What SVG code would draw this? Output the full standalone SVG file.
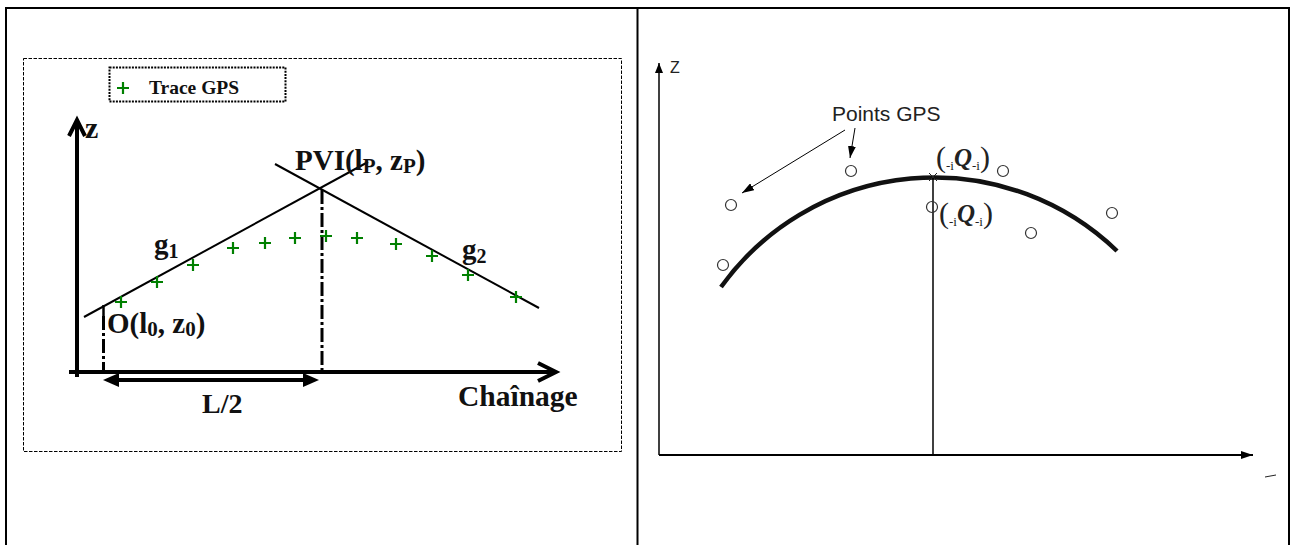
<svg xmlns="http://www.w3.org/2000/svg" width="1291" height="545" viewBox="0 0 1291 545">
<style>
.frame{stroke:#000;stroke-width:2;fill:none}
.serif{font-family:"Liberation Serif","Times New Roman",serif;font-weight:bold;fill:#111}
.sans{font-family:"Liberation Sans",Arial,sans-serif;fill:#222}
.axis{stroke:#000;stroke-width:4;fill:none;stroke-linecap:butt}
.slope{stroke:#000;stroke-width:2;fill:none}
.dashdot{stroke:#000;stroke-width:3;fill:none;stroke-dasharray:14 3 3 3}
.gps{stroke:#008000;stroke-width:2.2;fill:none}
.pt{stroke:#333;stroke-width:1.2;fill:none}
.thin{stroke:#000;stroke-width:1.5;fill:none}
.garb{font-family:"Liberation Serif","Times New Roman",serif;fill:#222}
</style>
<defs>
<marker id="ah" markerUnits="userSpaceOnUse" markerWidth="12" markerHeight="8" refX="12" refY="4" orient="auto">
<path d="M0,0 L12,4 L0,8 Z" fill="#000"/>
</marker>
<marker id="ahs" markerUnits="userSpaceOnUse" markerWidth="10" markerHeight="8" refX="10" refY="4" orient="auto">
<path d="M0,0 L10,4 L0,8 Z" fill="#000"/>
</marker>
<path id="plus" d="M-6,0 H6 M0,-6 V6"/>
</defs>
<rect width="1291" height="545" fill="#fff"/>

<g id="table">
<line class="frame" x1="5" y1="8" x2="1290" y2="8"/>
<line class="frame" x1="6" y1="8" x2="6" y2="545"/>
<line class="frame" x1="637.5" y1="8" x2="637.5" y2="545"/>
<line class="frame" x1="1289" y1="8" x2="1289" y2="545"/>
</g>

<!-- LEFT PANEL -->
<g id="left-frame">
<rect x="23.5" y="58.5" width="598" height="393" fill="none" stroke="#000" stroke-width="1" stroke-dasharray="3.5 1.5"/>
</g>

<g id="legend">
<rect x="109.5" y="67.5" width="176" height="34" fill="none" stroke="#000" stroke-width="2" stroke-dasharray="2 1.2"/>
<use href="#plus" x="123" y="88" class="gps"/>
<text class="serif" x="149" y="94" font-size="19.5">Trace GPS</text>
</g>

<g id="z-axis">
<line class="axis" x1="77" y1="377" x2="77" y2="120"/>
<polyline class="axis" points="69,136 77,120 85,136"/>
<text class="serif" x="85" y="138" font-size="30">z</text>
</g>

<g id="chainage-axis">
<line class="axis" x1="69" y1="372" x2="555" y2="372"/>
<polyline class="axis" points="538,363 556,372 538,381"/>
<text class="serif" x="458" y="406" font-size="29.5">Chaînage</text>
</g>

<g id="L2">
<line class="axis" x1="115" y1="380" x2="307" y2="380"/>
<polygon points="103,380 119,373 119,387" fill="#000"/>
<polygon points="319,380 303,373 303,387" fill="#000"/>
<text class="serif" x="202" y="413" font-size="28">L/2</text>
</g>

<g id="g1">
<line class="slope" x1="84" y1="317" x2="368" y2="162"/>
<text class="serif" x="154" y="254" font-size="29">g<tspan font-size="20" dy="4">1</tspan></text>
</g>

<g id="g2">
<line class="slope" x1="275" y1="164" x2="539" y2="308"/>
<text class="serif" x="462" y="259" font-size="29">g<tspan font-size="20" dy="4">2</tspan></text>
</g>

<g id="PVI">
<line class="dashdot" x1="322" y1="190" x2="322" y2="370"/>
<text class="serif" x="295" y="170" font-size="29">PVI(l<tspan font-size="21" dy="3">P</tspan><tspan dy="-3">, z</tspan><tspan font-size="21" dy="3">P</tspan><tspan dy="-3">)</tspan></text>
</g>

<g id="O">
<line x1="103.5" y1="305" x2="103.5" y2="316" stroke="#000" stroke-width="2.5"/>
<line class="dashdot" x1="103.5" y1="316" x2="103.5" y2="370"/>
<text class="serif" x="107" y="333" font-size="29">O(l<tspan font-size="21" dy="3">0</tspan><tspan dy="-3">, z</tspan><tspan font-size="21" dy="3">0</tspan><tspan dy="-3">)</tspan></text>
</g>

<g id="gps-trace" class="gps">
<use href="#plus" x="121" y="302"/>
<use href="#plus" x="157" y="282"/>
<use href="#plus" x="193" y="265"/>
<use href="#plus" x="233" y="248"/>
<use href="#plus" x="265" y="243"/>
<use href="#plus" x="295" y="238"/>
<use href="#plus" x="326" y="236"/>
<use href="#plus" x="357" y="238"/>
<use href="#plus" x="396" y="244"/>
<use href="#plus" x="432" y="256"/>
<use href="#plus" x="468" y="275"/>
<use href="#plus" x="516" y="297"/>
</g>

<!-- RIGHT PANEL -->
<g id="right-axes">
<line class="thin" x1="659" y1="455" x2="659" y2="63" marker-end="url(#ahs)"/>
<text class="sans" x="670" y="73" font-size="16">Z</text>
<line x1="659" y1="455" x2="1253" y2="455" stroke="#000" stroke-width="2" marker-end="url(#ah)"/>
<line x1="1265" y1="477" x2="1276" y2="475" stroke="#222" stroke-width="1"/>
</g>

<g id="curve">
<path d="M721,287 A263,263 0 0 1 1117,251" fill="none" stroke="#111" stroke-width="4.5"/>
<line class="thin" x1="933" y1="177" x2="933" y2="455"/>
<path d="M929,173 L937,181 M937,173 L929,181" stroke="#222" stroke-width="1"/>
</g>

<g id="points" class="pt">
<circle cx="731" cy="205" r="5.5"/>
<circle cx="851" cy="171" r="5.5"/>
<circle cx="723" cy="265" r="5.5"/>
<circle cx="1003" cy="171" r="5.5"/>
<circle cx="932" cy="207" r="5.5"/>
<circle cx="1031" cy="233" r="5.5"/>
<circle cx="1112" cy="213" r="5.5"/>
</g>

<g id="points-label">
<text class="sans" x="832" y="121" font-size="21">Points GPS</text>
</g>

<g id="connectors">
<line x1="845" y1="130" x2="742" y2="193" stroke="#000" stroke-width="1" marker-end="url(#ah)"/>
<line x1="855" y1="128" x2="850" y2="158" stroke="#000" stroke-width="1" marker-end="url(#ah)"/>
</g>

<g id="label-top">
<text class="garb" x="936" y="167" font-size="30">(<tspan font-size="13" dy="3">-i</tspan><tspan font-size="25" font-style="italic" font-weight="bold" dy="-4">Q</tspan><tspan font-size="13" dy="4">-i</tspan><tspan dy="-3">)</tspan></text>
</g>
<g id="label-bottom">
<text class="garb" x="939" y="223" font-size="30">(<tspan font-size="13" dy="3">-i</tspan><tspan font-size="25" font-style="italic" font-weight="bold" dy="-4">Q</tspan><tspan font-size="13" dy="4">-i</tspan><tspan dy="-3">)</tspan></text>
</g>
</svg>
